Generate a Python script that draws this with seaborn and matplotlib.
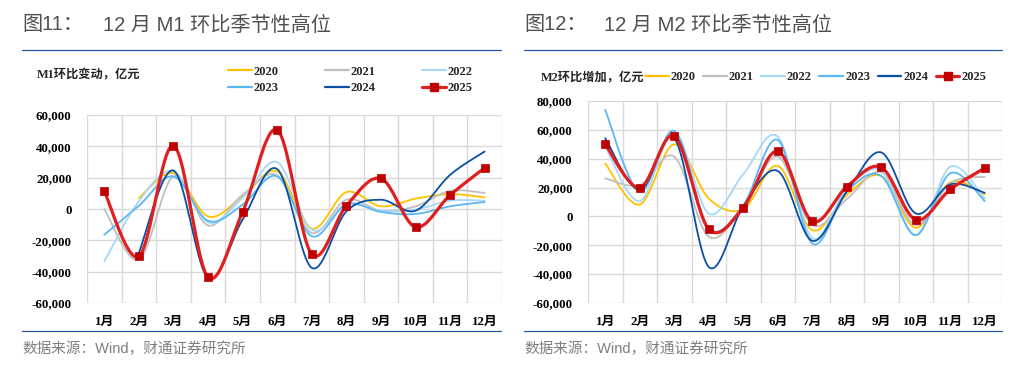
import numpy as np
import pandas as pd
import matplotlib
matplotlib.use("Agg")
import matplotlib.pyplot as plt
import seaborn as sns
from matplotlib.lines import Line2D
from matplotlib.ticker import FuncFormatter

months = ["1月", "2月", "3月", "4月", "5月", "6月", "7月", "8月", "9月", "10月", "11月", "12月"]
years = ["2020", "2021", "2022", "2023", "2024", "2025"]

# M1 month-on-month change, 100m yuan
m1_2020 = [np.nan, 7000, 22900, -4700, 8000, 24000, -12500, 10800, 1700, 6600, 9500, 7400]
m1_2021 = [0, -32300, 20800, -10500, 9100, 21500, -15300, 5900, -1100, 1700, 11600, 10200]
m1_2022 = [-33400, 5000, 24000, -8500, 7200, 29900, -13200, 2700, -1100, -400, 5300, 5300]
m1_2023 = [-16400, 2000, 20800, -7500, 2700, 20800, -17400, 3000, -1900, -3200, 1700, 4500]
m1_2024 = [np.nan, -28000, 24600, -44000, -6800, 25500, -37600, -1500, 5900, -1100, 21800, 36700]
m1_2025 = [11200, -30200, 40500, -43500, -1900, 50500, -28900, 2100, 19500, -11500, 8900, 26300]

# M2 month-on-month increase, 100m yuan
m2_2020 = [36600, 8300, 50000, 12500, 5100, 35100, -9500, 14800, 28000, -7900, 23600, 15300]
m2_2021 = [26400, 21700, 41400, -14000, 6700, 41400, -6000, 12000, 30500, -6000, 23000, 27500]
m2_2022 = [48300, 10600, 58300, 2000, 29200, 55300, -15000, 19400, 31500, -13000, 34500, 12500]
m2_2023 = [73800, 17100, 59200, -7900, 7800, 53000, -18800, 17100, 28000, -13000, 29900, 10600]
m2_2024 = [54200, 18300, 54200, -35000, 7000, 31500, -16900, 17100, 44400, 2100, 22200, 16400]
m2_2025 = [50000, 19900, 55800, -8800, 6000, 45300, -3300, 20600, 34000, -2300, 18700, 33500]

colors = {"2020": "#FFC000", "2021": "#BFBFBF", "2022": "#A6D8FA",
          "2023": "#5BB7F2", "2024": "#0A4FA3", "2025": "#E0201E"}
marker_color = "#C00000"

serif = ["Liberation Serif", "Noto Sans CJK SC"]
sans = ["Liberation Sans", "Noto Sans CJK SC", "DejaVu Sans"]

sns.set_theme(style="white")
plt.rcParams["font.family"] = serif


def smooth(xs, ys, n=24):
    # excel-style smoothed line: cubic bezier through the points
    pts = np.column_stack([xs, ys])
    out = []
    for i in range(len(pts) - 1):
        p0 = pts[i - 1] if i > 0 else pts[i]
        p1, p2 = pts[i], pts[i + 1]
        p3 = pts[i + 2] if i + 2 < len(pts) else pts[i + 1]
        c1 = p1 + (p2 - p0) / 6
        c2 = p2 - (p3 - p1) / 6
        t = np.linspace(0, 1, n)[:, None]
        seg = ((1 - t) ** 3) * p1 + 3 * ((1 - t) ** 2) * t * c1 + 3 * (1 - t) * t ** 2 * c2 + t ** 3 * p2
        out.append(seg if i == 0 else seg[1:])
    out = np.vstack(out)
    return out[:, 0], out[:, 1]


def draw_panel(ax, series, ylim, step):
    for yr, vals in zip(years, series):
        v = np.array(vals, dtype=float)
        idx = np.arange(len(months))
        ok = ~np.isnan(v)
        sx, sy = smooth(idx[ok], v[ok])
        d = pd.DataFrame({"x": sx, "y": sy})
        lw = 2.3 if yr == "2025" else 1.3
        sns.lineplot(data=d, x="x", y="y", ax=ax, color=colors[yr], linewidth=lw,
                     sort=False, estimator=None)
    pts = pd.DataFrame({"x": np.arange(len(months)), "y": series[-1]})
    sns.scatterplot(data=pts, x="x", y="y", ax=ax, marker="s", s=34,
                    color=marker_color, edgecolor=marker_color, linewidth=0.5, zorder=5)
    ax.set_xlim(-0.5, len(months) - 0.5)
    ax.set_ylim(*ylim)
    ax.set_yticks(np.arange(ylim[0], ylim[1] + 1, step))
    ax.yaxis.set_major_formatter(FuncFormatter(lambda v, p: f"{int(v):,}"))
    ax.set_xticks(np.arange(len(months)))
    ax.set_xticklabels(months)
    ax.set_xticks(np.arange(-0.5, len(months)), minor=True)
    ax.grid(False)
    ax.grid(True, axis="y", which="major", color="#D9D9D9", linewidth=1.0)
    ax.grid(True, axis="x", which="minor", color="#D9D9D9", linewidth=1.0)
    ax.tick_params(axis="both", which="both", length=0)
    ax.tick_params(axis="y", pad=11)
    ax.tick_params(axis="x", pad=9)
    for lab in ax.get_xticklabels() + ax.get_yticklabels():
        lab.set_fontweight("bold")
        lab.set_fontsize(9.3)
        lab.set_color("black")
    for s in ax.spines.values():
        s.set_visible(False)
    ax.set_xlabel("")
    ax.set_ylabel("")
    ax.set_axisbelow(True)


fig = plt.figure(figsize=(10.24, 3.69), dpi=100)
W, H = 1024, 369

ax1 = fig.add_axes([87 / W, 1 - 303 / H, 415 / W, (303 - 115) / H])
draw_panel(ax1, [m1_2020, m1_2021, m1_2022, m1_2023, m1_2024, m1_2025], (-60000, 60000), 20000)

ax2 = fig.add_axes([588 / W, 1 - 303 / H, 414 / W, (303 - 101) / H])
draw_panel(ax2, [m2_2020, m2_2021, m2_2022, m2_2023, m2_2024, m2_2025], (-60000, 80000), 20000)

handles = {}
for yr in years:
    if yr == "2025":
        handles[yr] = Line2D([], [], color=colors[yr], linewidth=2.3, marker="s",
                             markersize=6, markerfacecolor=marker_color, markeredgecolor=marker_color)
    else:
        handles[yr] = Line2D([], [], color=colors[yr], linewidth=1.6)

leg_font = {"family": serif, "weight": "bold", "size": 9}
# left legend is 3 columns filled row by row
left_order = ["2020", "2023", "2021", "2024", "2022", "2025"]
fig.legend([handles[y] for y in left_order], left_order, loc="center left",
           bbox_to_anchor=(228 / W, 1 - 80 / H), ncol=3,
           frameon=False, prop=leg_font, handlelength=1.9, handletextpad=0.15,
           columnspacing=3.7, borderpad=0, borderaxespad=0, labelspacing=0.35)
fig.legend([handles[y] for y in years], years, loc="center left",
           bbox_to_anchor=(645 / W, 1 - 77 / H), ncol=6,
           frameon=False, prop=leg_font, handlelength=1.9, handletextpad=0.15,
           columnspacing=0.6, borderpad=0, borderaxespad=0)

fig.text(37 / W, 1 - 75 / H, "M1环比变动，亿元", fontsize=8.8, fontweight="bold",
         family=serif, va="center", ha="left")
fig.text(541 / W, 1 - 77 / H, "M2环比增加，亿元", fontsize=8.8, fontweight="bold",
         family=serif, va="center", ha="left")

# titles, rules and sources
title_color = "#505050"
rule_color = "#2458A6"
for x0, x1, num, rest, xr in [(22, 501, "图11：", "12 月 M1 环比季节性高位", 103),
                              (524, 1002, "图12：", "12 月 M2 环比季节性高位", 604)]:
    fig.text(x0 / W, 1 - 25 / H, num, fontsize=14.5, color=title_color, family=sans,
             fontweight="medium", va="center", ha="left")
    fig.text(xr / W, 1 - 25 / H, rest, fontsize=14.5, color=title_color, family=sans,
             fontweight="medium", va="center", ha="left")
    fig.add_artist(Line2D([x0 / W, x1 / W], [1 - 50 / H, 1 - 50 / H], color=rule_color, linewidth=0.9))
    fig.add_artist(Line2D([x0 / W, x1 / W], [1 - 331 / H, 1 - 331 / H], color=rule_color, linewidth=0.9))
    fig.text(x0 / W, 1 - 349 / H, "数据来源：Wind，财通证券研究所", fontsize=10.5, color="#7F7F7F",
             family=sans, va="center", ha="left")

fig.savefig("out.png", dpi=100)
